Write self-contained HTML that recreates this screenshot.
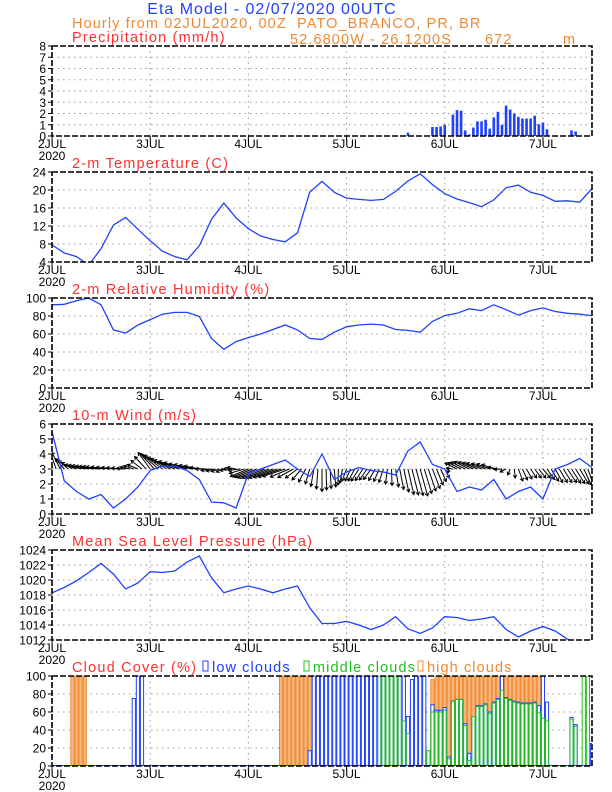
<!DOCTYPE html>
<html><head><meta charset="utf-8">
<style>
html,body{margin:0;padding:0;background:#fff;}
svg{display:block;font-family:"Liberation Sans",sans-serif;}
</style></head>
<body>
<svg id="chart" width="612" height="792" viewBox="0 0 612 792" xmlns="http://www.w3.org/2000/svg">
<text x="272" y="14" font-size="16" letter-spacing="1" fill="#2040ff" text-anchor="middle">Eta Model - 02/07/2020 00UTC</text>
<text x="72" y="28" font-size="14.5" letter-spacing="1.1" fill="#f08a30" xml:space="preserve">Hourly from 02JUL2020, 00Z  PATO_BRANCO, PR, BR</text>
<text x="290" y="44" font-size="14.5" letter-spacing="1.1" fill="#f08a30">52.6800W - 26.1200S</text>
<text x="485" y="44" font-size="14.5" letter-spacing="1.1" fill="#f08a30">672</text>
<text x="563" y="44" font-size="14.5" fill="#f08a30">m</text>
</svg>
<script>
// ---- data ----
const dayLabels = ["2JUL","3JUL","4JUL","5JUL","6JUL","7JUL"];
const hours3 = [0,3,6,9,12,15,18,21,24,27,30,33,36,39,42,45,48,51,54,57,60,63,66,69,72,75,78,81,84,87,90,93,96,99,102,105,108,111,114,117,120,123,126,129,132];
const precipHours = [87,93,94,95,96,98,99,100,101,102,103,104,105,106,107,108,109,110,111,112,113,114,115,116,117,118,119,120,121,127,128];
const precipVals = [0.3,0.8,0.8,0.85,1.0,1.9,2.3,2.25,0.5,0.15,0.75,1.3,1.3,1.45,0.65,1.65,2.15,1.0,2.7,2.35,2.0,1.7,1.55,1.55,1.55,1.8,1.05,1.2,0.6,0.5,0.4];
const tempVals = [7.8,6.0,5.2,3.3,7.0,12.2,13.9,11.3,8.7,6.4,5.2,4.5,7.6,13.5,17.1,13.8,11.4,9.8,9.0,8.5,10.5,19.5,21.9,19.5,18.2,17.9,17.7,17.9,19.7,22.0,23.6,21.2,19.2,18.0,17.2,16.3,17.8,20.5,21.1,19.5,18.8,17.5,17.6,17.3,20.3];
const rhVals = [92.5,93,97,100,92.5,64.5,61,70,76,82,84,84,79.5,55,43,51.5,56,60,65,70,64.5,55,54,62,68,70,71,70,65,64,62,74,80.5,83,88,86,92.5,87,81,86,89,85,83,82,80.5];
const windSpd = [5.5,2.2,1.5,1.0,1.3,0.4,1.0,1.8,2.9,3.2,3.2,2.9,2.3,0.8,0.75,0.4,2.7,3.0,3.3,3.6,3.0,2.5,4.0,2.3,2.8,3.1,2.9,2.8,2.6,4.2,4.8,3.3,3.0,1.5,1.8,1.6,2.3,1.0,1.5,1.8,1.0,3.0,3.3,3.7,3.1];
const windU = [-0.5,-0.6,-0.8,-0.9,-1.0,-0.8,-0.6,-0.7,-0.8,-1.2,-1.4,-1.2,-1.0,-0.7,-0.5,-0.6,-1.2,-1.5,-1.6,-1.5,-0.8,-0.3,0.0,0.1,-0.3,-0.5,-0.5,-0.3,0.2,0.4,0.5,0.5,0.3,-0.8,-1.0,-1.0,-0.8,-0.4,0.3,0.4,0.5,0.5,0.6,0.6,0.3];
const windV = [2.0,0.7,0.3,0.2,0.15,0.1,0.05,0.3,1.1,0.9,0.6,0.35,0.2,-0.1,-0.2,0.1,-0.5,-0.6,-0.6,-0.5,-0.6,-1.0,-1.5,-1.2,-0.8,-0.8,-0.7,-0.9,-1.2,-1.7,-1.8,-1.3,-0.6,0.4,0.5,0.4,0.3,-0.2,-0.8,-0.6,-0.6,-0.9,-0.9,-1.0,-1.2];
const pressVals = [1018.3,1019.0,1019.9,1021.0,1022.2,1020.8,1018.8,1019.6,1021.1,1021.0,1021.2,1022.4,1023.2,1020.3,1018.3,1018.8,1019.2,1018.8,1018.3,1018.8,1019.2,1016.3,1014.2,1014.2,1014.5,1014.0,1013.4,1014.0,1015.1,1013.5,1012.9,1013.6,1015.1,1015.0,1014.6,1014.8,1015.1,1013.4,1012.4,1013.2,1013.8,1013.2,1012.1,1011.5,1012.0];
const cloudHours = [5,6,7,8,20,21,22,56,57,58,59,60,61,62,63,64,65,66,67,68,69,70,71,72,73,74,75,76,77,78,79,80,81,82,83,84,85,86,87,88,89,90,91,92,93,94,95,96,97,98,99,100,101,102,103,104,105,106,107,108,109,110,111,112,113,114,115,116,117,118,119,120,121,127,128,130,131,132];
const lowVals  = [0,0,0,0,75,100,100,0,0,0,0,0,0,0,17,100,100,100,100,100,100,100,100,100,100,100,100,100,100,100,100,100,100,100,100,100,100,100,55,96,100,100,100,0,68,62,62,65,10,72,74,74,47,14,55,67,67,69,60,71,75,100,76,74,72,71,70,70,70,71,67,100,71,54,46,0,0,25];
const midVals  = [0,0,0,0,0,0,0,0,0,0,0,0,0,0,0,0,0,0,0,0,0,0,0,0,0,0,0,0,0,0,0,100,100,100,100,100,100,50,36,0,0,0,0,17,60,60,60,62,8,72,74,74,45,6,55,66,66,68,58,70,74,84,75,73,71,70,69,69,69,70,59,53,50,52,44,100,100,0];
const highVals = [100,100,100,100,0,0,0,100,100,100,100,100,100,100,100,76,0,0,0,0,0,0,0,0,0,0,0,0,0,0,0,0,0,0,0,0,0,0,0,0,0,0,0,0,96,100,100,100,100,100,100,100,100,100,100,100,100,100,100,100,100,100,100,100,100,100,100,100,100,100,100,100,0,0,0,0,0,0];
const precipTicks=[0,1,2,3,4,5,6,7,8], tempTicks=[4,8,12,16,20,24], rhTicks=[0,20,40,60,80,100], windTicks=[0,1,2,3,4,5,6], pressTicks=[1012,1014,1016,1018,1020,1022,1024], cloudTicks=[0,20,40,60,80,100];

// ---- layout ----
const NS="http://www.w3.org/2000/svg";
const svg=document.getElementById('chart');
const X0=52, X1=592, HMAX=132;
const xS=h=>X0+(X1-X0)*h/HMAX;
function mk(tag,attrs,parent){const e=document.createElementNS(NS,tag);for(const k in attrs)e.setAttribute(k,attrs[k]);(parent||svg).appendChild(e);return e;}

function panel(idx,name,title,ticks){
  const top=46+idx*126, bot=top+90;
  const lo=ticks[0], hi=ticks[ticks.length-1];
  const yS=v=>bot-(v-lo)/(hi-lo)*90;
  const g=mk('g',{});
  
  
  const t=mk('text',{x:72,y:top-4,'font-size':14.5,'letter-spacing':1.2,fill:'#ff3030'},g);
  t.textContent=title;
  
  
  ticks.forEach(v=>{
    const y=yS(v);
    if(v!==lo&&v!==hi){const l=mk('line',{x1:X0,x2:X1,y1:y,y2:y,stroke:'#999','stroke-dasharray':'1.5,4','stroke-width':1},g);
      
      }
    mk('line',{x1:X0-4,x2:X0,y1:y,y2:y,stroke:'#000'},g);
    const tx=mk('text',{x:X0-6,y:y+4.5,'font-size':12,'text-anchor':'end',fill:'#000'},g);
    tx.textContent=v;
    
    
  });
  dayLabels.forEach((d,i)=>{
    const x=xS(i*24);
    if(i>0){const l=mk('line',{x1:x,x2:x,y1:top,y2:bot,stroke:'#999','stroke-dasharray':'1.5,4'},g);
      
      }
    mk('line',{x1:x,x2:x,y1:bot,y2:bot+4,stroke:'#000'},g);
    const tx=mk('text',{x:x,y:bot+12,'font-size':12,'text-anchor':'middle',fill:'#000'},g);
    tx.textContent=d;
    
    
  });
  const yr=mk('text',{x:X0,y:bot+24,'font-size':12,'text-anchor':'middle',fill:'#000'},g);
  yr.textContent='2020';
  
  
  const cp=mk('clipPath',{id:'clip'+idx},g);
  mk('rect',{x:X0,y:top,width:X1-X0,height:90},cp);
  const plot=mk('g',{'clip-path':'url(#clip'+idx+')'},g);
  return {g,plot,yS,top,bot};
}
function frame(p,name){
  const f=mk('rect',{x:X0,y:p.top,width:X1-X0,height:90,fill:'none',stroke:'#000','stroke-width':1.6,'stroke-dasharray':'6,2'},p.g);
  
  
}
function line(p,vals,name){
  const d=vals.map((v,i)=>(i?'L':'M')+xS(hours3[i]).toFixed(1)+','+p.yS(v).toFixed(1)).join('');
  const pa=mk('path',{d:d,fill:'none',stroke:'#2040ff','stroke-width':1.3},p.plot);
  
  
}

// Precipitation
const p0=panel(0,'precipitation','Precipitation (mm/h)',precipTicks);
precipHours.forEach((h,i)=>{
  const y=p0.yS(precipVals[i]);
  const r=mk('rect',{x:xS(h)-1.3,y:y,width:2.6,height:p0.bot-y,fill:'#2040ff'},p0.plot);
  
  
});
frame(p0,'precipitation');

// Temperature
const p1=panel(1,'temperature','2-m Temperature (C)',tempTicks);
line(p1,tempVals,'temperature-line');
frame(p1,'temperature');

// RH
const p2=panel(2,'humidity','2-m Relative Humidity (%)',rhTicks);
line(p2,rhVals,'humidity-line');
frame(p2,'humidity');

// Wind
const p3=panel(3,'wind','10-m Wind (m/s)',windTicks);
const base=p3.yS(3), unitPx=15;
for(let h=0;h<=HMAX;h++){
  const k=Math.min(Math.floor(h/3),hours3.length-2), f=(h-hours3[k])/3;
  const u=windU[k]+(windU[k+1]-windU[k])*f, v=windV[k]+(windV[k+1]-windV[k])*f;
  const x=xS(h), tx=x+u*unitPx, ty=base-v*unitPx;
  const L=Math.hypot(tx-x,ty-base)||1, ux=(tx-x)/L, uy=(ty-base)/L, hs=3;
  const d='M'+x+','+base+'L'+tx+','+ty+'M'+(tx-hs*ux-hs*0.6*uy)+','+(ty-hs*uy+hs*0.6*ux)+'L'+tx+','+ty+'L'+(tx-hs*ux+hs*0.6*uy)+','+(ty-hs*uy-hs*0.6*ux);
  const a=mk('path',{d:d,stroke:'#000',fill:'none','stroke-width':1},p3.plot);
  
  
}
line(p3,windSpd,'wind-speed-line');
frame(p3,'wind');

// Pressure
const p4=panel(4,'pressure','Mean Sea Level Pressure (hPa)',pressTicks);
line(p4,pressVals,'pressure-line');
frame(p4,'pressure');

// Clouds
const p5=panel(5,'cloud','Cloud Cover (%)',cloudTicks);
const bw=3.2;
function cbars(vals,stroke,fill,name){
  cloudHours.forEach((h,i)=>{
    if(!vals[i])return;
    const y=p5.yS(vals[i]);
    const r=mk('rect',{x:xS(h)-bw/2,y:y,width:bw,height:p5.bot-y,fill:fill,stroke:stroke,'stroke-width':1},p5.plot);
    
    
  });
}
cbars(highVals,'#f08a30','#f8b880','high-cloud-bar');
cbars(lowVals,'#2040ff','#ffffff','low-cloud-bar');
cbars(midVals,'#20c020','none','middle-cloud-bar');
mk('line',{x1:X0,x2:X1,y1:p5.bot,y2:p5.bot,stroke:'#2040ff','stroke-width':2},p5.plot);
frame(p5,'cloud');
// legend
const legend=[['low clouds','#2040ff',203],['middle clouds','#20c020',304],['high clouds','#f08a30',418]];
legend.forEach(([lab,c,x])=>{
  const g=mk('g',{});
  
  
  mk('rect',{x:x,y:661,width:5,height:10,fill:'none',stroke:c,'stroke-width':1},g);
  const t=mk('text',{x:x+9,y:672,'font-size':14.5,'letter-spacing':1.1,fill:c},g);
  t.textContent=lab;
});
</script>
</body></html>
